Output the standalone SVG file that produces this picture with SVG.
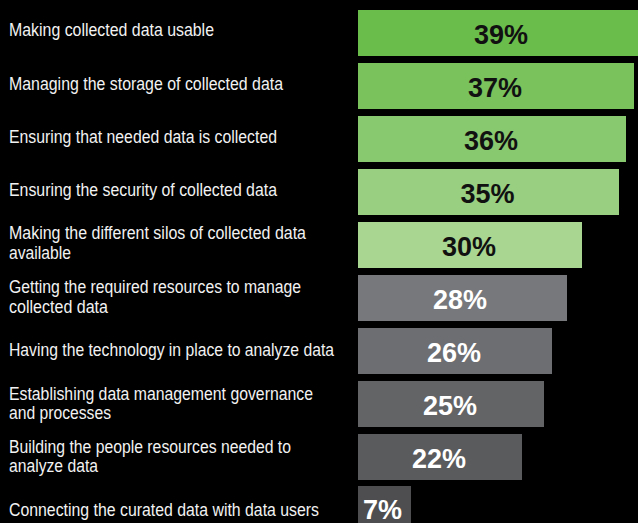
<svg xmlns="http://www.w3.org/2000/svg" width="638" height="523" viewBox="0 0 638 523">
<style>
.lbl{font-family:"Liberation Sans Narrow","Liberation Sans",Arial,sans-serif;font-size:17.5px;fill:#f2f2f2}
.pct{font-family:"Liberation Sans",Arial,sans-serif;font-size:27px;font-weight:bold;text-anchor:middle}
.dk{fill:#111111}
.lt{fill:#ffffff}
</style>
<rect x="0" y="0" width="638" height="523" fill="#000000"/>
<g id="row1">
<text class="lbl" x="9" y="36" textLength="205" lengthAdjust="spacingAndGlyphs">Making collected data usable</text>
<rect x="358" y="10" width="291" height="46" fill="#6bbd4b"/>
<text class="pct dk" x="501" y="44">39%</text>
</g>
<g id="row2">
<text class="lbl" x="9" y="90" textLength="274" lengthAdjust="spacingAndGlyphs">Managing the storage of collected data</text>
<rect x="358" y="63" width="276" height="46" fill="#79c25c"/>
<text class="pct dk" x="495" y="97">37%</text>
</g>
<g id="row3">
<text class="lbl" x="9" y="143" textLength="268" lengthAdjust="spacingAndGlyphs">Ensuring that needed data is collected</text>
<rect x="358" y="116" width="268" height="46" fill="#88c86e"/>
<text class="pct dk" x="491" y="150">36%</text>
</g>
<g id="row4">
<text class="lbl" x="9" y="196" textLength="268" lengthAdjust="spacingAndGlyphs">Ensuring the security of collected data</text>
<rect x="358" y="169" width="261" height="46" fill="#98cf80"/>
<text class="pct dk" x="487.5" y="203">35%</text>
</g>
<g id="row5">
<text class="lbl" x="9" y="239" textLength="297" lengthAdjust="spacingAndGlyphs">Making the different silos of collected data</text>
<text class="lbl" x="9" y="259" textLength="62" lengthAdjust="spacingAndGlyphs">available</text>
<rect x="358" y="222" width="224" height="46" fill="#a9d690"/>
<text class="pct dk" x="469" y="256">30%</text>
</g>
<g id="row6">
<text class="lbl" x="9" y="292.5" textLength="292" lengthAdjust="spacingAndGlyphs">Getting the required resources to manage</text>
<text class="lbl" x="9" y="312.5" textLength="99" lengthAdjust="spacingAndGlyphs">collected data</text>
<rect x="358" y="275" width="209" height="46" fill="#77787b"/>
<text class="pct lt" x="460" y="309">28%</text>
</g>
<g id="row7">
<text class="lbl" x="9" y="355.5" textLength="325" lengthAdjust="spacingAndGlyphs">Having the technology in place to analyze data</text>
<rect x="358" y="328" width="194" height="46" fill="#6d6e71"/>
<text class="pct lt" x="454" y="362">26%</text>
</g>
<g id="row8">
<text class="lbl" x="9" y="399.5" textLength="304" lengthAdjust="spacingAndGlyphs">Establishing data management governance</text>
<text class="lbl" x="9" y="419" textLength="102" lengthAdjust="spacingAndGlyphs">and processes</text>
<rect x="358" y="381" width="186" height="46" fill="#636466"/>
<text class="pct lt" x="450" y="415">25%</text>
</g>
<g id="row9">
<text class="lbl" x="9" y="452.5" textLength="282" lengthAdjust="spacingAndGlyphs">Building the people resources needed to</text>
<text class="lbl" x="9" y="472" textLength="89" lengthAdjust="spacingAndGlyphs">analyze data</text>
<rect x="358" y="434" width="164" height="46" fill="#5a5b5d"/>
<text class="pct lt" x="439" y="468">22%</text>
</g>
<g id="row10">
<text class="lbl" x="9" y="516" textLength="310" lengthAdjust="spacingAndGlyphs">Connecting the curated data with data users</text>
<rect x="358" y="486" width="53" height="46" fill="#4e4e50"/>
<text class="pct lt" x="382.5" y="519">7%</text>
</g>
<g id="connectors"/>
</svg>
